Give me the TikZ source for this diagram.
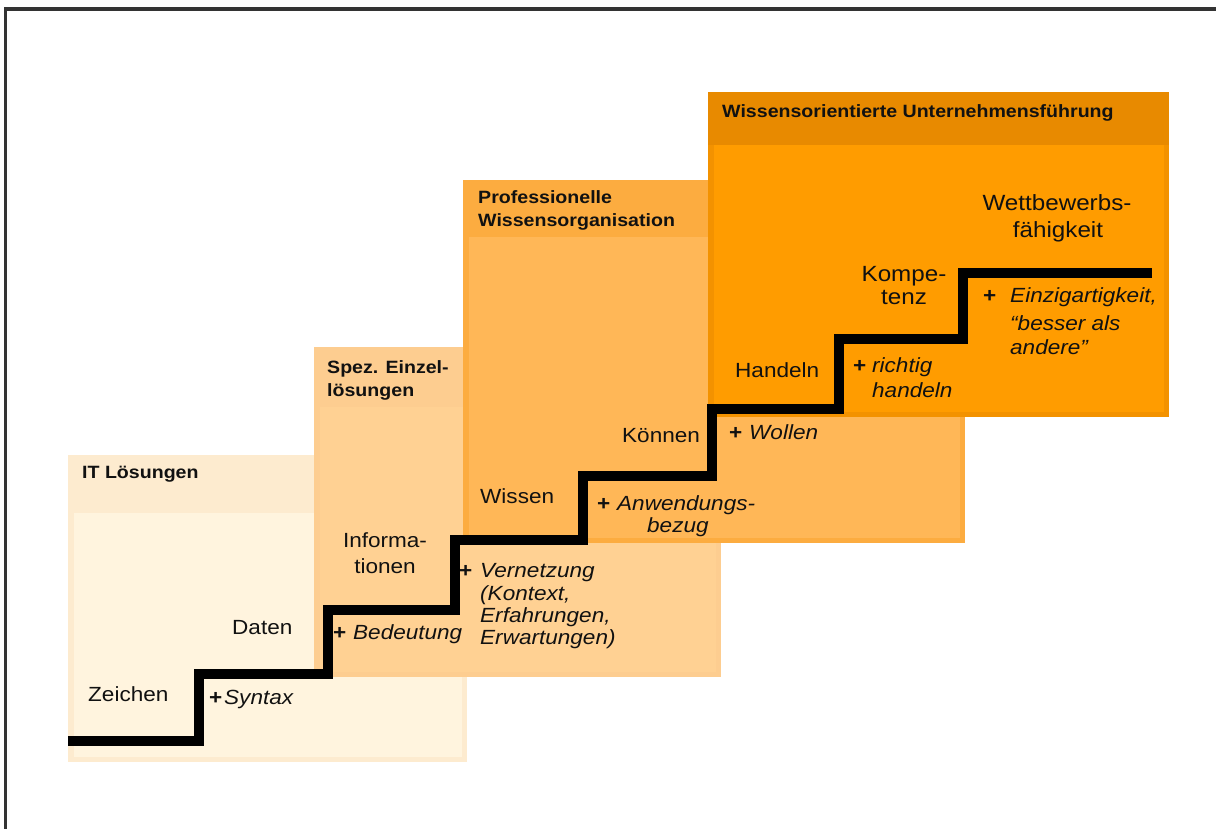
\documentclass[tikz,border=0pt]{standalone}
\usepackage{fontspec}
\setmainfont{Liberation Sans}[FakeStretch=1.1]
\definecolor{hA}{HTML}{FDEBCF}
\definecolor{bA}{HTML}{FFF4DE}
\definecolor{hB}{HTML}{FDCD90}
\definecolor{bB}{HTML}{FFD193}
\definecolor{hC}{HTML}{FCAC40}
\definecolor{bC}{HTML}{FFB757}
\definecolor{hD}{HTML}{E88A00}
\definecolor{rD}{HTML}{F39200}
\definecolor{bD}{HTML}{FF9C00}
\definecolor{txt}{HTML}{111111}
\definecolor{framec}{HTML}{333333}
\tikzset{
  framestyle/.style={draw=framec, line width=3.2pt},
  stair/.style={draw=black, line width=9.5pt, line join=miter, line cap=butt},
  hdrtext/.style={font=\fontsize{17.8}{22}\selectfont\bfseries, text=txt, inner sep=0pt, anchor=base west},
  lbl/.style={font=\fontsize{20.5}{24}\selectfont, text=txt, inner sep=0pt, anchor=base west},
  biglbl/.style={font=\fontsize{22}{26}\selectfont, text=txt, inner sep=0pt, anchor=base},
  itl/.style={font=\fontsize{20.5}{24}\selectfont\itshape, text=txt, inner sep=0pt, anchor=base west},
  plus/.style={font=\fontsize{20.5}{24}\selectfont\bfseries, text=txt, inner sep=0pt, anchor=base west},
}
\begin{document}
\begin{tikzpicture}[x=1pt,y=-1pt]
\useasboundingbox (0,0) rectangle (1216,829);
\clip (0,0) rectangle (1216,829);
\fill[white] (0,0) rectangle (1216,829);
% frame
\draw[framestyle] (5.5,840) -- (5.5,9) -- (1230,9);
% box 1
\fill[hA] (68,455) rectangle (467,762);
\fill[bA] (74,513) rectangle (462,757);
% box 2
\fill[hB] (314,347) rectangle (721,677);
\fill[bB] (320,407) rectangle (716,672);
% box 3
\fill[hC] (463,180) rectangle (965,543);
\fill[bC] (469,237) rectangle (960,538);
% box 4
\fill[rD] (708,92) rectangle (1169,417);
\fill[hD] (708,92) rectangle (1169,145);
\fill[bD] (714,145) rectangle (1164,412);
% stair
\draw[stair] (68,741) -| (199,674) -| (328,610) -| (455,540) -| (583,476) -| (712,409) -| (839,339) -| (963,273) -- (1152,273);
% headers
\node[hdrtext] (hA1) at (82,478) {IT Lösungen};
\node[hdrtext] (hB1) at (327,373) {Spez. Einzel-};
\node[hdrtext] (hB2) at (327,396) {lösungen};
\node[hdrtext] (hC1) at (478,204) {Professionelle};
\node[hdrtext] (hC2) at (478,227) {Wissensorganisation};
\node[hdrtext] (hD1) at (722,118) {Wissensorientierte Unternehmensführung};
% step labels
\node[lbl] (zeichen) at (88,701) {Zeichen};
\node[lbl] (daten) at (232,634) {Daten};
\node[lbl,anchor=base] (inf1) at (385,547) {Informa-};
\node[lbl,anchor=base] (inf2) at (385,573) {tionen};
\node[lbl] (wissen) at (480,503) {Wissen};
\node[lbl] (koennen) at (622,442) {Können};
\node[lbl] (handeln) at (735,377) {Handeln};
\node[biglbl] (komp1) at (904,282) {Kompe-};
\node[biglbl] (komp2) at (904,305) {tenz};
\node[biglbl] (wett1) at (1057,211) {Wettbewerbs-};
\node[biglbl] (wett2) at (1058,238) {fähigkeit};
% additions
\node[plus] (psyn) at (209,704) {+};
\node[itl] (syn) at (224,704) {Syntax};
\node[plus] (pbed) at (333,639) {+};
\node[itl] (bed) at (353,639) {Bedeutung};
\node[plus] (pver) at (459,577) {+};
\node[itl] (ver1) at (480,577) {Vernetzung};
\node[itl] (ver2) at (480,600) {(Kontext,};
\node[itl] (ver3) at (480,622) {Erfahrungen,};
\node[itl] (ver4) at (480,644) {Erwartungen)};
\node[plus] (panw) at (597,510) {+};
\node[itl] (anw1) at (617,510) {Anwendungs-};
\node[itl] (anw2) at (647,532) {bezug};
\node[plus] (pwol) at (729,439) {+};
\node[itl] (wol) at (749,439) {Wollen};
\node[plus] (pri) at (853,372) {+};
\node[itl] (ri1) at (872,372) {richtig};
\node[itl] (ri2) at (872,397) {handeln};
\node[plus] (pein) at (983,302) {+};
\node[itl] (ein1) at (1010,302) {Einzigartigkeit,};
\node[itl] (ein2) at (1010,330) {“besser als};
\node[itl] (ein3) at (1010,354) {andere”};
\end{tikzpicture}
\end{document}
